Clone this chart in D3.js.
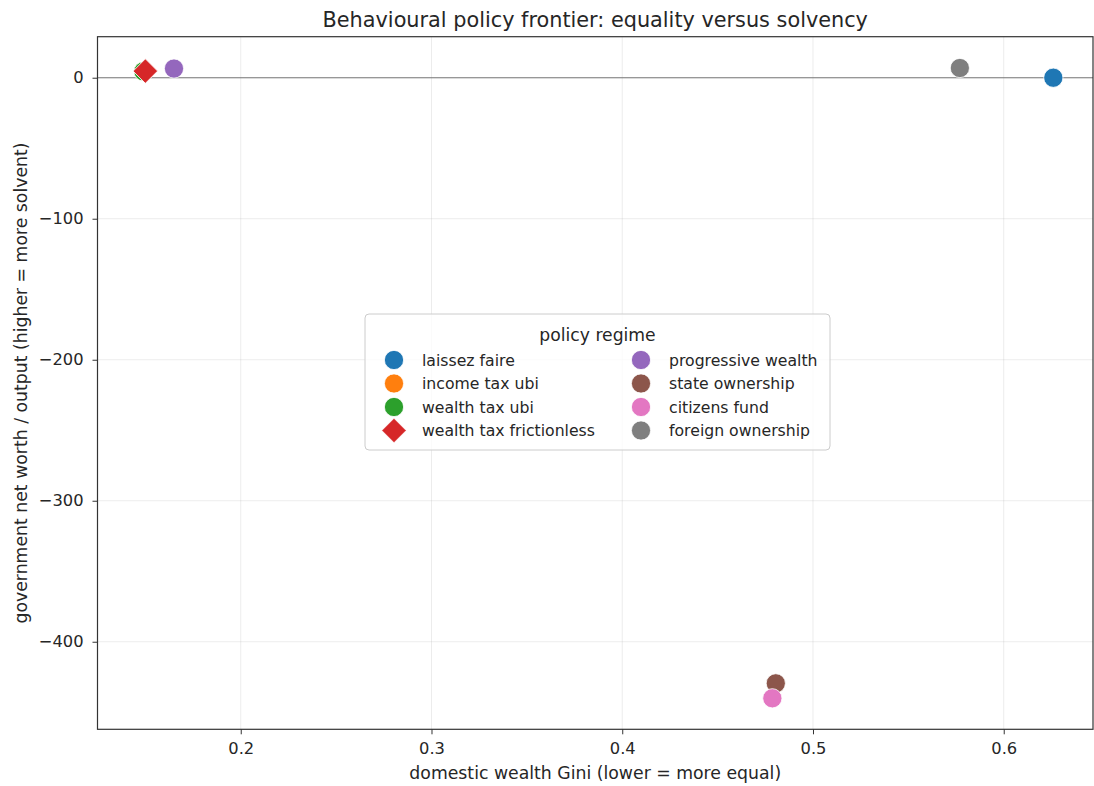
<!DOCTYPE html>
<html>
<head>
<meta charset="utf-8">
<script src="https://cdn.jsdelivr.net/npm/d3@7"></script>
<style>
  body { margin: 0; background: #fff; }
  text { font-family: "DejaVu Sans", sans-serif; fill: #262626; }
</style>
</head>
<body>
<div id="chart"></div>
<script>
// policy regimes, in plotting order
const regimes = ["laissez faire", "income tax ubi", "wealth tax ubi", "wealth tax frictionless",
  "progressive wealth", "state ownership", "citizens fund", "foreign ownership"];
const gini = [0.626, 0.149, 0.149, 0.150, 0.165, 0.4805, 0.4787, 0.577];
const netWorth = [0, 4.5, 4.5, 4.7, 6.5, -429.5, -440.1, 6.9];
const shapes = ["circle", "circle", "circle", "diamond", "circle", "circle", "circle", "circle"];
const colours = ["#1f77b4", "#ff7f0e", "#2ca02c", "#d62728", "#9467bd", "#8c564b", "#e377c2", "#7f7f7f"];
const xTicks = [0.2, 0.3, 0.4, 0.5, 0.6];
const yTicks = [0, -100, -200, -300, -400];

const width = 1094, height = 786;
const margin = { left: 97.5, right: 1, top: 36.7, bottom: 56.7 };

const svg = d3.select("#chart")
  .append("svg")
  .attr("width", width)
  .attr("height", height);

const x = d3.scaleLinear()
  .domain([0.1249, 0.6468])
  .range([margin.left, width - margin.right]);

const y = d3.scaleLinear()
  .domain([-462.1, 29.1])
  .range([height - margin.bottom, margin.top]);

// grid
svg.append("g")
  .selectAll("line")
  .data(xTicks)
  .join("line")
  .attr("x1", d => x(d)).attr("x2", d => x(d))
  .attr("y1", margin.top).attr("y2", height - margin.bottom)
  .attr("stroke", "#b0b0b0").attr("stroke-opacity", 0.3).attr("stroke-width", 0.8);

svg.append("g")
  .selectAll("line")
  .data(yTicks)
  .join("line")
  .attr("x1", margin.left).attr("x2", width - margin.right)
  .attr("y1", d => y(d)).attr("y2", d => y(d))
  .attr("stroke", "#b0b0b0").attr("stroke-opacity", 0.3).attr("stroke-width", 0.8);

// zero line
svg.append("line")
  .attr("x1", margin.left).attr("x2", width - margin.right)
  .attr("y1", y(0)).attr("y2", y(0))
  .attr("stroke", "#7a7a7a").attr("stroke-width", 1.1);

// axes
const fmtY = d => d < 0 ? "\u2212" + Math.abs(d) : String(d);

const xAxis = svg.append("g")
  .attr("transform", `translate(0,${height - margin.bottom})`)
  .call(d3.axisBottom(x).tickValues(xTicks).tickFormat(d3.format(".1f")).tickSize(5).tickPadding(8));

const yAxis = svg.append("g")
  .attr("transform", `translate(${margin.left},0)`)
  .call(d3.axisLeft(y).tickValues(yTicks).tickFormat(fmtY).tickSize(5).tickPadding(9));

[xAxis, yAxis].forEach(g => {
  g.select(".domain").remove();
  g.selectAll(".tick line").attr("stroke", "#333").attr("stroke-width", 1);
  g.selectAll(".tick text").style("font-size", "16.3px").attr("fill", "#262626")
    .style("font-family", "'DejaVu Sans', sans-serif");
});

// frame
svg.append("rect")
  .attr("x", margin.left).attr("y", margin.top)
  .attr("width", width - margin.right - margin.left)
  .attr("height", height - margin.bottom - margin.top)
  .attr("fill", "none").attr("stroke", "#333").attr("stroke-width", 1.2);

// markers
const symbolFor = s => s === "diamond"
  ? d3.symbol().type(d3.symbolSquare).size(300)()
  : d3.symbol().type(d3.symbolCircle).size(290)();

svg.append("g")
  .selectAll("path")
  .data(regimes)
  .join("path")
  .attr("d", (d, i) => symbolFor(shapes[i]))
  .attr("transform", (d, i) => `translate(${x(gini[i])},${y(netWorth[i])})` + (shapes[i] === "diamond" ? " rotate(45)" : ""))
  .attr("fill", (d, i) => colours[i])
  .attr("stroke", "#fff")
  .attr("stroke-width", 0.8);

// titles
svg.append("text")
  .attr("x", (margin.left + width - margin.right) / 2)
  .attr("y", 27)
  .attr("text-anchor", "middle")
  .style("font-size", "20.8px")
  .text("Behavioural policy frontier: equality versus solvency");

svg.append("text")
  .attr("x", (margin.left + width - margin.right) / 2)
  .attr("y", 779)
  .attr("text-anchor", "middle")
  .style("font-size", "17.3px")
  .text("domestic wealth Gini (lower = more equal)");

svg.append("text")
  .attr("transform", `translate(27,${(margin.top + height - margin.bottom) / 2}) rotate(-90)`)
  .attr("text-anchor", "middle")
  .style("font-size", "17.3px")
  .text("government net worth / output (higher = more solvent)");

// legend
const legend = svg.append("g").attr("transform", "translate(365,314)");
legend.append("rect")
  .attr("width", 465).attr("height", 136)
  .attr("rx", 4).attr("ry", 4)
  .attr("fill", "#fff").attr("fill-opacity", 0.8)
  .attr("stroke", "#cccccc").attr("stroke-width", 1);

legend.append("text")
  .attr("x", 232.5).attr("y", 27)
  .attr("text-anchor", "middle")
  .style("font-size", "17.2px")
  .text("policy regime");

const items = legend.selectAll("g.item")
  .data(regimes)
  .join("g")
  .attr("class", "item")
  .attr("transform", (d, i) => `translate(${i < 4 ? 29 : 276},${46 + (i % 4) * 23.5})`);

items.append("path")
  .attr("d", (d, i) => symbolFor(shapes[i]))
  .attr("transform", (d, i) => shapes[i] === "diamond" ? "rotate(45)" : "")
  .attr("fill", (d, i) => colours[i])
  .attr("stroke", "#fff")
  .attr("stroke-width", 0.8);

items.append("text")
  .attr("x", 28).attr("y", 5.5)
  .style("font-size", "15.7px")
  .text(d => d);
</script>
</body>
</html>
